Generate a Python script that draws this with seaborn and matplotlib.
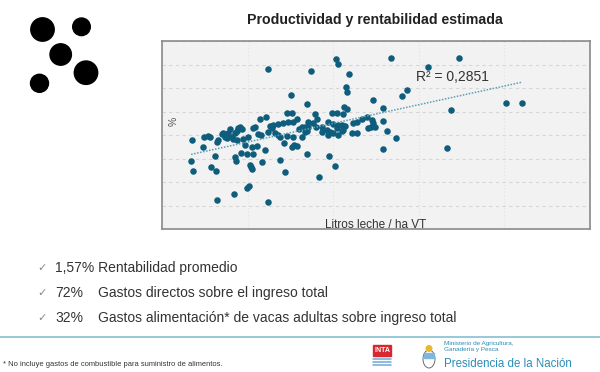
import numpy as np
import pandas as pd
import seaborn as sns
import matplotlib.pyplot as plt
from matplotlib.patches import Circle, Ellipse, Rectangle

# litros leche / ha VT
litros = [1020, 1085, 1050, 1435, 1470, 1610, 1680, 1960, 1925, 1855, 1715, 1890, 1925,
          2100, 2135, 2205, 2275, 2380, 2450, 2485, 2555, 2625, 2660, 2730, 2800, 2835,
          2625, 2555, 2590, 2520, 2765, 2905, 2975, 3185, 3150, 3325, 3080, 3115, 3150,
          2975, 3045, 3185, 3255, 3360, 3430, 3500, 3605, 3010, 3465, 2310,
          3710, 3640, 3710, 3710, 3780, 3850, 3885, 3955, 4060, 4060, 4130, 4235, 4375,
          4375, 4410, 4550, 4585, 4585, 4515, 4725, 4795, 4900, 4900, 5005, 5005, 5075,
          5110, 5110, 5285, 5355, 5390, 5425, 5215, 5075, 4130, 4305, 4270, 4550, 4620,
          4725, 5075, 5495, 5845, 6055, 5600, 5600, 5775, 5810, 5880, 5810, 5950, 5985,
          5985, 6090, 6160, 6125, 6125, 6160, 6160, 6300, 6300, 6335, 6335, 6405, 6370,
          6475, 6440, 6475, 6545, 6650, 6685, 6825, 6825, 7000, 7175, 7210, 7350, 7315,
          7385, 7455, 7385, 7735, 7735, 7875, 8190, 7735, 8015, 8400, 8575, 9310, 9975,
          10115, 10395, 12040, 12600]
# rentabilidad %
rentab = [-5.5, -7.7, -1.1, -2.6, -0.4, -0.2, -0.4, -1.1, -1.5, -4.5, -6.8, -7.7, -13.8,
          0.2, 0.4, -0.4, -0.6, 1.3, -0.4, -0.9, 0.4, 0.9, 1.5, 1.7, 1.3, -0.9,
          -1.1, -4.7, -5.5, -12.6, -3.8, -2.1, -4.0, -4.0, -2.6, -2.3, -6.4, -6.8, -7.2,
          -11.3, -10.9, 1.5, 1.7, 0.2, 3.4, -5.7, -3.2, -0.4, 0.0, 0.4,
          14.0, 3.8, -14.3, 0.6, 1.9, 1.5, 2.1, 0.4, 2.3, 0.0, -0.4, 2.6, 4.7,
          -0.2, 2.8, 4.7, 2.8, -0.4, 8.5, 3.4, 1.3, 1.7, -0.4, 1.7, 0.6, 0.9,
          2.8, 1.7, 2.6, 4.5, 1.7, 3.4, 13.6, 6.6, -5.3, -7.9, -1.7, -2.6, -2.1,
          -2.3, -4.0, -8.9, -4.5, -6.6, 1.7, 0.6, 1.1, 0.0, 0.6, 2.8, 4.7, 2.3,
          0.4, 16.2, 15.1, 4.7, 1.5, 2.1, 0.0, 2.1, 0.9, 4.5, 1.1, 1.9, 6.0,
          5.5, 10.2, 9.2, 13.0, 0.4, 2.6, 2.8, 0.4, 3.4, 3.8, 1.5, 3.2, 1.7,
          2.6, 1.7, 7.4, 5.7, 3.0, 0.9, -0.6, -3.0, 16.4, 8.3, 9.6, 14.5, -2.8,
          5.3, 16.4, 6.8, 6.8]
r2_text = "R² = 0,2851"

bullets = [("1,57%", "Rentabilidad promedio"),
           ("72%", "Gastos directos sobre el ingreso total"),
           ("32%", "Gastos alimentación* de vacas adultas sobre ingreso total")]

df = pd.DataFrame({"litros": litros, "rentab": rentab})

sns.set_style("white")
plt.rcParams['font.family'] = ['Liberation Sans', 'DejaVu Sans']

fig = plt.figure(figsize=(6, 3.72), dpi=100)
fig.patch.set_facecolor("white")

# decoration layer in pixel units
deco = fig.add_axes([0, 0, 1, 1])
deco.set_xlim(0, 600)
deco.set_ylim(372, 0)
deco.axis("off")
for cx, cy, r in [(42.5, 29.5, 11.7), (81.5, 26.8, 8.8), (60.7, 54.5, 10.7),
                  (86, 72.7, 11.7), (39.5, 83.3, 9)]:
    deco.add_patch(Circle((cx, cy), r, color="black"))

deco.text(375, 20, "Productividad y rentabilidad estimada", ha="center", va="center",
          fontsize=10.2, fontweight="bold", color="#222222")

for i, (num, txt) in enumerate(bullets):
    yy = 268 + i * 25
    deco.text(37, yy, "✓", ha="left", va="center", fontsize=8, color="#8a8a8a")
    if i == 0:
        deco.text(55, yy, num + " " + txt, ha="left", va="center", fontsize=10, color="#333333")
    else:
        deco.text(55, yy, num, ha="left", va="center", fontsize=10, color="#333333")
        deco.text(98, yy, txt, ha="left", va="center", fontsize=10, color="#333333")

deco.plot([0, 600], [336.5, 336.5], color="#86bfcf", lw=1.2)
deco.text(3, 365, "* No incluye gastos de combustible para suministro de alimentos.",
          ha="left", va="center", fontsize=5.4, color="#333333")

# INTA logo
deco.add_patch(Rectangle((373, 345), 18, 11, color="#d7282f"))
deco.text(382, 350.5, "INTA", ha="center", va="center", fontsize=5,
          fontweight="bold", color="white")
for yy in (359, 362, 365):
    deco.plot([373, 391], [yy, yy], color="#6fa8d6", lw=1.1)
# escudo
deco.add_patch(Ellipse((429, 359), 12, 18, facecolor="white", edgecolor="#555555", lw=0.6))
deco.add_patch(Rectangle((424, 353), 10, 5, color="#7eb6de"))
deco.add_patch(Circle((429, 348.5), 2.8, color="#e8b92d"))
deco.text(444, 346.5, "Ministerio de Agricultura,\nGanadería y Pesca", ha="left", va="center",
          fontsize=4.6, color="#2a8db5", linespacing=1.0)
deco.text(444, 364, "Presidencia de la Nación", ha="left", va="center",
          fontsize=8.3, color="#2a8db5")

# scatter plot
ax = fig.add_axes([162 / 600, 1 - 229 / 372, 428 / 600, 188 / 372])
ax.set_facecolor("#f2f2f2")
sns.regplot(data=df, x="litros", y="rentab", ax=ax, ci=None,
            scatter_kws=dict(s=22, color="#0f5d7c", linewidths=0, alpha=1, zorder=3),
            line_kws=dict(color="#5b9fb6", ls=(0, (1, 1)), lw=1.1, zorder=4))
ax.set_xlim(0, 15000)
ax.set_ylim(-20, 20)
ax.set_xticks(np.arange(0, 15001, 3000))
ax.set_yticks(np.arange(-20, 21, 5))
ax.tick_params(length=0, labelbottom=False, labelleft=False)
ax.yaxis.grid(True, ls=(0, (3, 3)), color="#d6d6d6", lw=0.8)
ax.xaxis.grid(True, ls=(0, (1, 2)), color="#e2e2e2", lw=0.8)
ax.set_axisbelow(True)
for sp in ax.spines.values():
    sp.set_color("#8a8a8a")
    sp.set_linewidth(1.2)

ax.set_xlabel("Litros leche / ha VT", fontsize=8.5, color="#333333")
ax.xaxis.set_label_coords(0.5, 0.055)
ax.set_ylabel("%", fontsize=7.5, color="#555555")
ax.yaxis.set_label_coords(0.04, 0.575)
ax.text(0.678, 0.81, r2_text, transform=ax.transAxes, ha="center", va="center",
        fontsize=10, color="#333333")

fig.savefig("out.png", dpi=100, facecolor="white")
